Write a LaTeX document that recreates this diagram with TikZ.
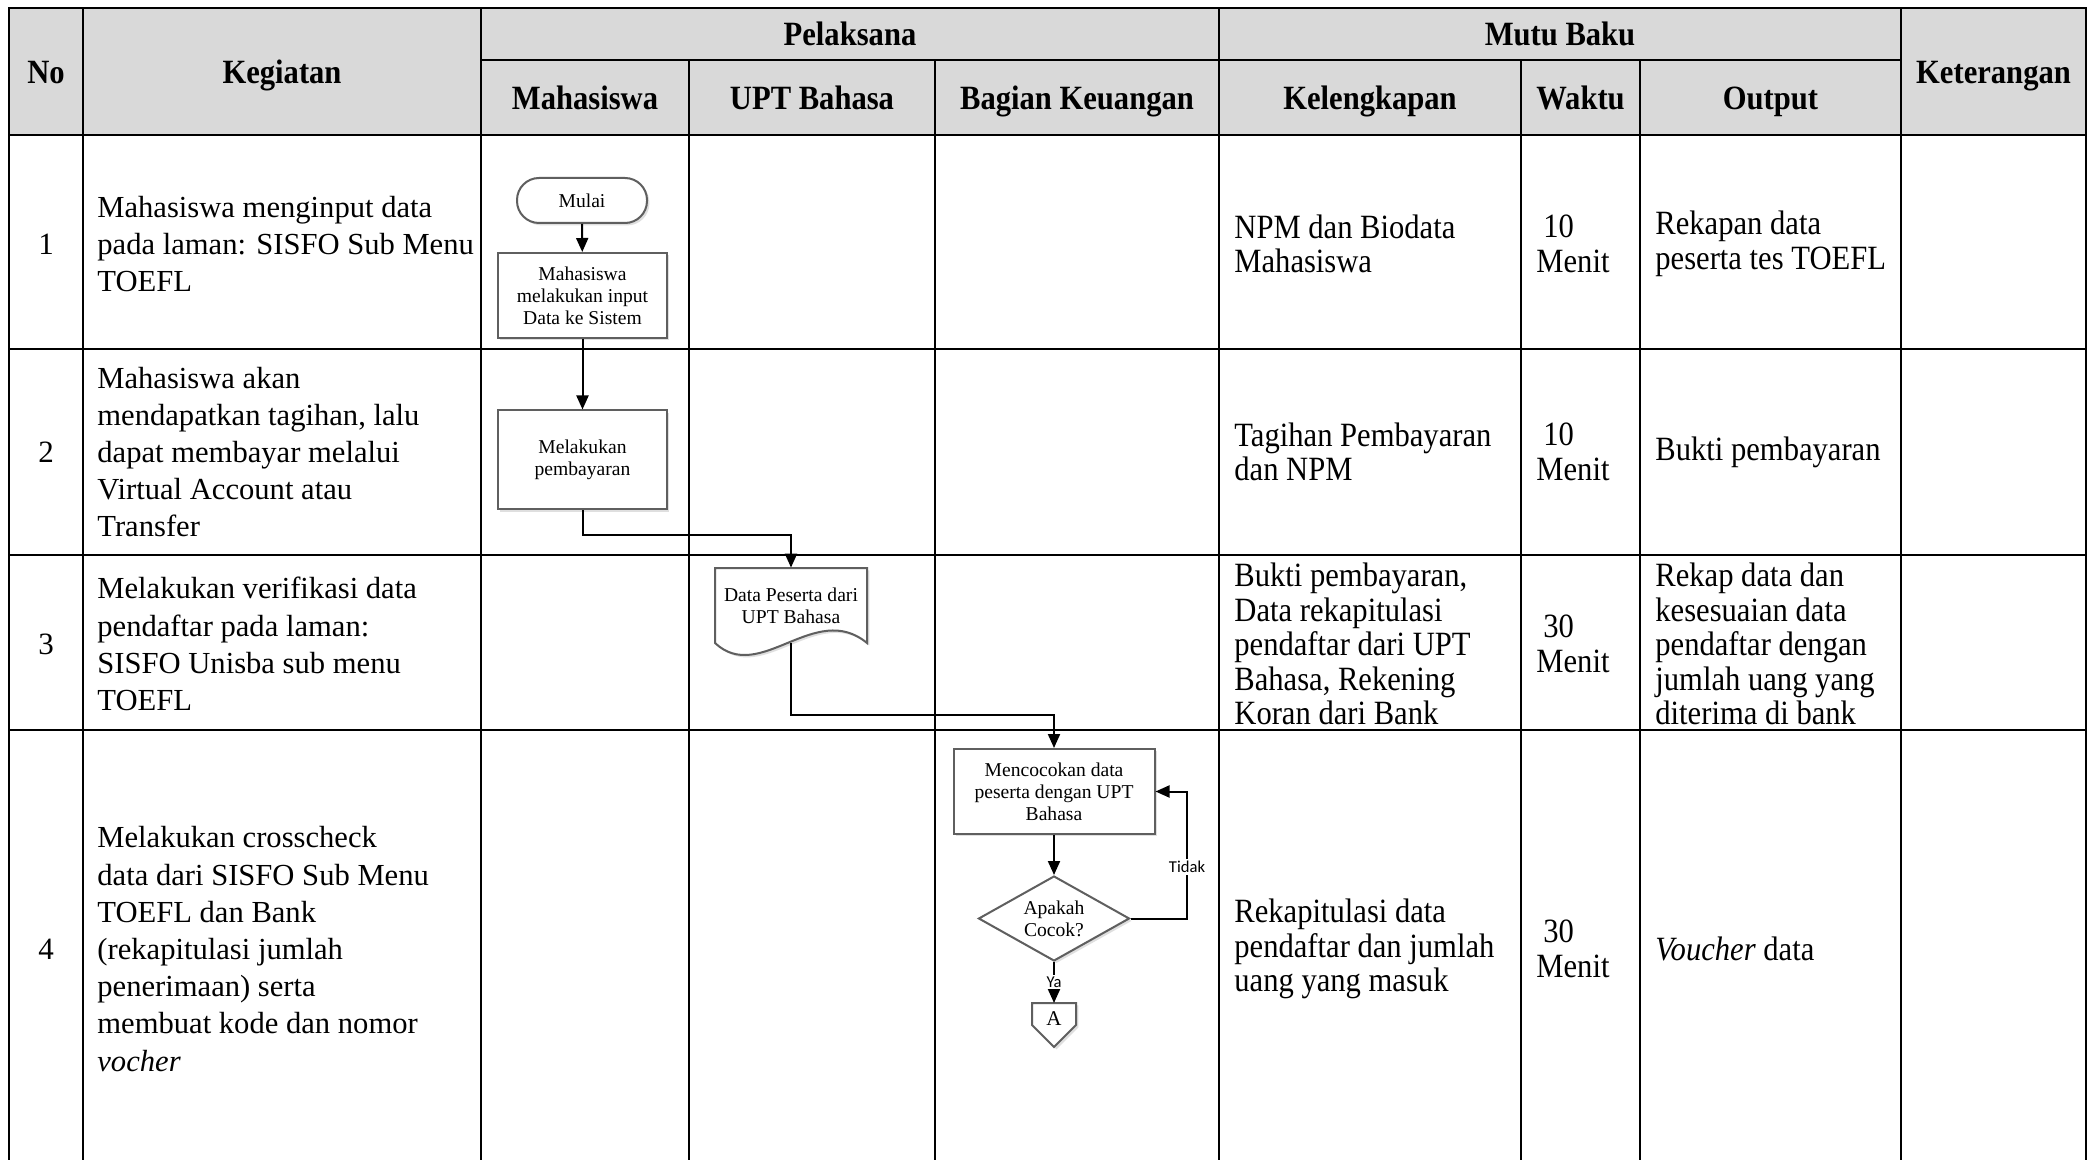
\documentclass[tikz,border=0pt]{standalone}
\usepackage{fontspec}
\setmainfont{Liberation Serif}
\newfontfamily\condserif[FakeStretch=0.9]{Liberation Serif}
\newfontfamily\labelsans{Carlito}
\usetikzlibrary{arrows.meta,shapes.geometric,shadows,calc}
\definecolor{hdrgray}{HTML}{D9D9D9}
\definecolor{shapeedge}{HTML}{5F5F5F}

\begin{document}
\begin{tikzpicture}[x=0.5pt,y=-0.5pt,
  tablerule/.style={line width=1.3pt, black, line cap=rect},
  hdr/.style={font=\fontsize{17}{20}\selectfont\condserif\bfseries, inner sep=0pt,
    align=center, text height=11.5pt, text depth=3.5pt},
  lefttxt/.style={font=\fontsize{15.3}{18.6}\selectfont, align=left, anchor=west, inner sep=0pt},
  righttxt/.style={font=\fontsize{17}{17.3}\selectfont\condserif, align=left, anchor=west, inner sep=0pt},
  numtxt/.style={font=\fontsize{15.5}{18.6}\selectfont, inner sep=0pt},
  shadowed/.style={drop shadow={opacity=0.25, shadow xshift=1.2pt, shadow yshift=-1.2pt}},
  fc/.style={draw=shapeedge, line width=1pt, fill=white, shadowed,
    font=\fontsize{9.8}{11}\selectfont, align=center, inner sep=1pt},
  procbox/.style={fc, rectangle},
  termbox/.style={fc, rectangle, rounded corners=11pt},
  arr/.style={line width=1pt, -{Triangle[length=7pt,width=6pt]}},
  flowlab/.style={fill=white, inner sep=1pt, font=\fontsize{8.3}{10}\selectfont\labelsans}
]
\useasboundingbox (0,0) rectangle (2089,1160);
\fill[white] (0,0) rectangle (2089,1160);

% header band
\fill[hdrgray] (9,8) rectangle (2086,135);

% table rules
\draw[tablerule] (9,8) -- (2086,8);
\draw[tablerule] (481,60) -- (1901,60);
\foreach \yy in {135,349,555,730} \draw[tablerule] (9,\yy) -- (2086,\yy);
\foreach \xx in {9,83,481,1219,1901,2086} \draw[tablerule] (\xx,8) -- (\xx,1165);
\foreach \xx in {689,935,1521,1640} \draw[tablerule] (\xx,60) -- (\xx,1165);

% header texts
\node[hdr] (hNo)   at (46,76)      {No};
\node[hdr] (hKeg)  at (282,76)     {Kegiatan};
\node[hdr] (hPel)  at (850,38)     {Pelaksana};
\node[hdr] (hMah)  at (585,102)    {Mahasiswa};
\node[hdr] (hUpt)  at (812,102)    {UPT Bahasa};
\node[hdr] (hBag)  at (1077,102)   {Bagian Keuangan};
\node[hdr] (hMutu) at (1560,38)    {Mutu Baku};
\node[hdr] (hKel)  at (1370,102)   {Kelengkapan};
\node[hdr] (hWak)  at (1580.5,102) {Waktu};
\node[hdr] (hOut)  at (1770.5,102) {Output};
\node[hdr] (hKet)  at (1993.5,76)  {Keterangan};

% row numbers
\node[numtxt] (n1) at (46,244) {1};
\node[numtxt] (n2) at (46,452) {2};
\node[numtxt] (n3) at (46,644) {3};
\node[numtxt] (n4) at (46,949) {4};

% activities
\node[lefttxt] (k1) at (97,244) {Mahasiswa menginput data\\pada laman: SISFO Sub Menu\\TOEFL};
\node[lefttxt] (k2) at (97,452) {Mahasiswa akan\\mendapatkan tagihan, lalu\\dapat membayar melalui\\Virtual Account atau\\Transfer};
\node[lefttxt] (k3) at (97,644) {Melakukan verifikasi data\\pendaftar pada laman:\\SISFO Unisba sub menu\\TOEFL};
\node[lefttxt] (k4) at (97,949) {Melakukan crosscheck\\data dari SISFO Sub Menu\\TOEFL dan Bank\\(rekapitulasi jumlah\\penerimaan) serta\\membuat kode dan nomor\\\textit{vocher}};

% completeness
\node[righttxt] (l1) at (1234,244) {NPM dan Biodata\\Mahasiswa};
\node[righttxt] (l2) at (1234,452) {Tagihan Pembayaran\\dan NPM};
\node[righttxt] (l3) at (1234,644) {Bukti pembayaran,\\Data rekapitulasi\\pendaftar dari UPT\\Bahasa, Rekening\\Koran dari Bank};
\node[righttxt] (l4) at (1234,949) {Rekapitulasi data\\pendaftar dan jumlah\\uang yang masuk};

% time
\node[righttxt] (w1) at (1536,244) {\hspace*{3.5pt}10\\Menit};
\node[righttxt] (w2) at (1536,452) {\hspace*{3.5pt}10\\Menit};
\node[righttxt] (w3) at (1536,644) {\hspace*{3.5pt}30\\Menit};
\node[righttxt] (w4) at (1536,949) {\hspace*{3.5pt}30\\Menit};

% output
\node[righttxt] (o1) at (1655,244) {Rekapan data\\peserta tes TOEFL};
\node[righttxt] (o2) at (1655,452) {Bukti pembayaran};
\node[righttxt] (o3) at (1655,644) {Rekap data dan\\kesesuaian data\\pendaftar dengan\\jumlah uang yang\\diterima di bank};
\node[righttxt] (o4) at (1655,949) {\textit{Voucher} data};

% flowchart shapes
\node[termbox, minimum width=65pt, minimum height=22.5pt] (start) at (582,200.5) {Mulai};
\node[procbox, minimum width=84.5pt, minimum height=42.5pt] (inp) at (582.5,295.5) {Mahasiswa\\melakukan input\\Data ke Sistem};
\node[procbox, minimum width=84.5pt, minimum height=49.5pt] (pay) at (582.5,460) {Melakukan\\pembayaran};

\draw[draw=shapeedge, line width=1pt, fill=white, shadowed]
  (715,568) -- (867,568) -- (867,643)
  .. controls (815,600) and (760,685) .. (715,643) -- cycle;
\node[font=\fontsize{9.8}{11}\selectfont, align=center, inner sep=0pt,
  minimum width=76pt, minimum height=37.5pt] (doc) at (791,605.5) {\rule{0pt}{7.5pt}Data Peserta dari\\UPT Bahasa};

\node[procbox, minimum width=100.5pt, minimum height=42.5pt] (match) at (1054,791.5) {Mencocokan data\\peserta dengan UPT\\Bahasa};
\node[fc, diamond, aspect=1.78, inner sep=0pt, minimum width=75.5pt, minimum height=42.5pt] (dec) at (1054,918.5) {Apakah\\Cocok?};

\draw[draw=shapeedge, line width=1pt, fill=white, shadowed]
  (1032,1003) -- (1076,1003) -- (1076,1025) -- (1054,1047) -- (1032,1025) -- cycle;
\node[font=\fontsize{10.5}{12}\selectfont, inner sep=0pt, anchor=north,
  minimum width=22pt, minimum height=15pt] (conA) at (1054,1003) {A};

% connectors
\coordinate (turnA) at (582.5,535);
\coordinate (turnB) at (791,715);
\coordinate (loopc) at (1187,918.5);
\draw[arr] (start) -- (inp);
\draw[arr] (inp) -- (pay);
\draw[arr] (pay.south) -- (turnA) -| (doc.north);
\draw[arr] (doc.south) -- (turnB) -| (match.north);
\draw[arr] (match) -- (dec);
\draw[arr] (dec.east) -- (loopc) |- (match.east);
\draw[arr] (dec.south) -- (conA.north);
\node[flowlab] (tidak) at (1187,867) {Tidak};
\node[flowlab] (ya) at (1054,982) {Ya};
\end{tikzpicture}
\end{document}
